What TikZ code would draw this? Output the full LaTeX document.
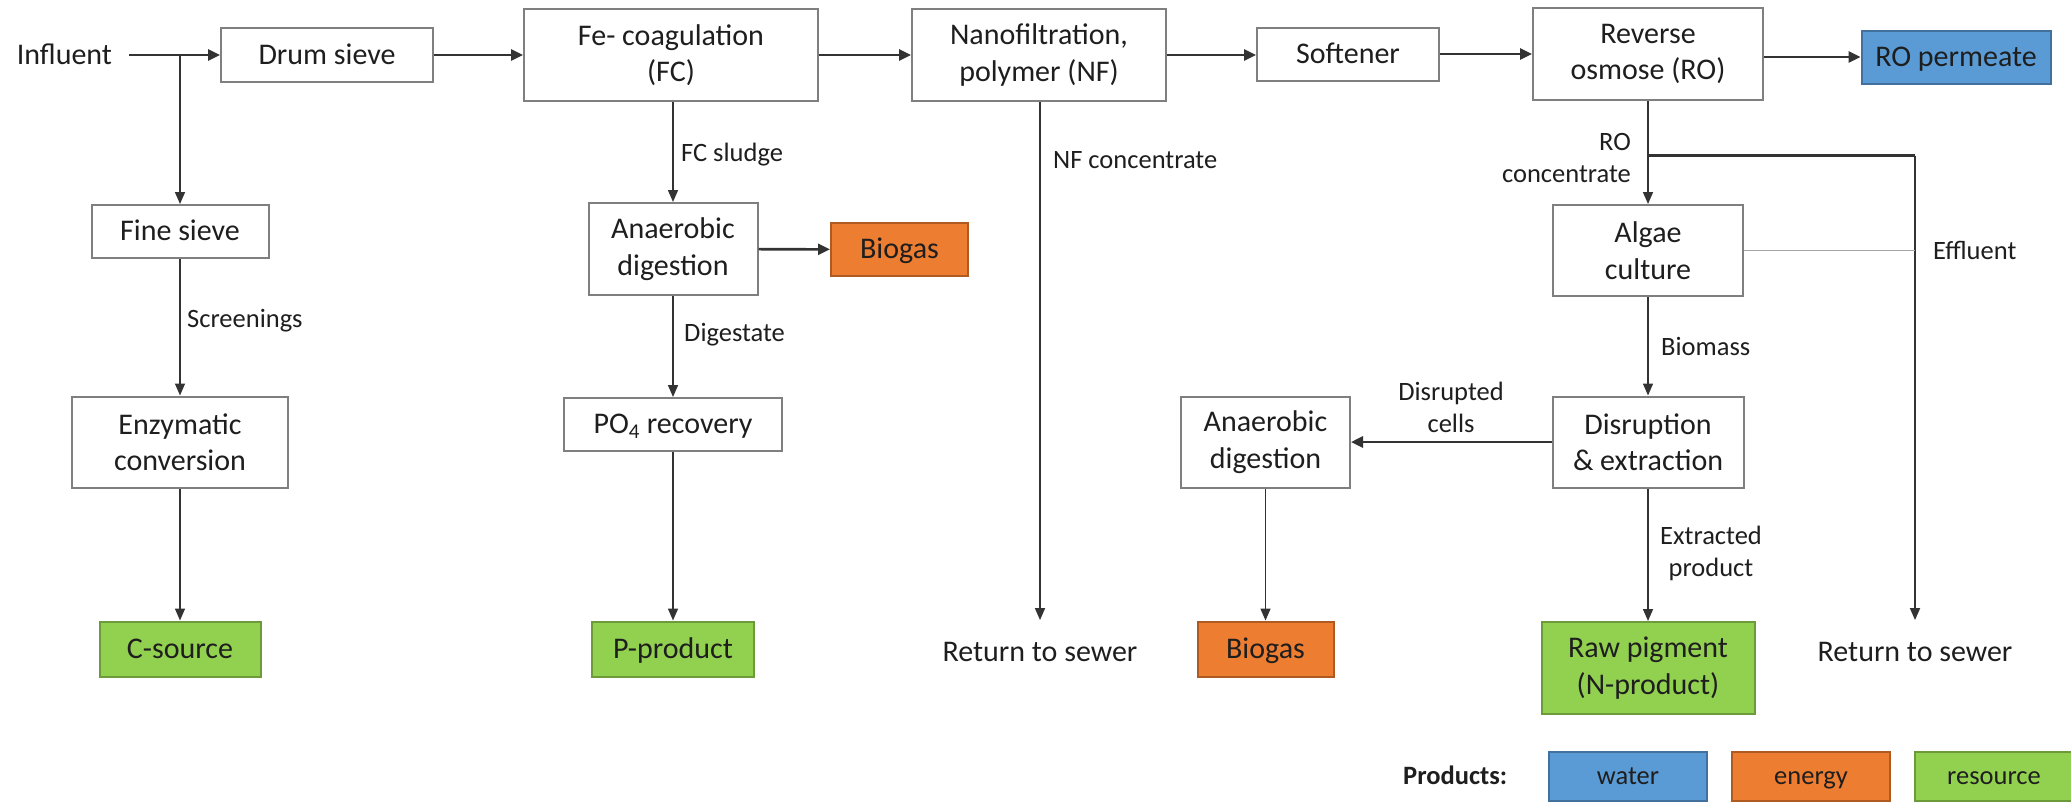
\documentclass[tikz,border=0pt]{standalone}
\usepackage{fontspec}
\setmainfont{Carlito}
\usetikzlibrary{arrows.meta,calc}

\definecolor{txt}{HTML}{1E1E1E}
\definecolor{boxline}{HTML}{7F7F7F}
\definecolor{flow}{HTML}{333333}
\definecolor{waterfill}{HTML}{5B9BD5}
\definecolor{waterline}{HTML}{41719C}
\definecolor{energyfill}{HTML}{ED7D31}
\definecolor{energyline}{HTML}{AE5A21}
\definecolor{resfill}{HTML}{92D050}
\definecolor{resline}{HTML}{6E9B3A}

\tikzset{
  procbox/.style={draw=boxline, line width=2pt, fill=white, inner sep=0pt,
    align=center, text=txt, font=\fontsize{30}{36.5}\selectfont},
  oneline/.style={text height=23pt, text depth=5pt},
  smallline/.style={text height=20pt, text depth=4.5pt},
  waterbox/.style={procbox, draw=waterline, fill=waterfill},
  energybox/.style={procbox, draw=energyline, fill=energyfill},
  resbox/.style={procbox, draw=resline, fill=resfill},
  keybox/.style={minimum width=158pt, minimum height=49pt, smallline,
    font=\fontsize{26.5}{32}\selectfont},
  flowlbl/.style={inner sep=0pt, align=center, text=txt,
    font=\fontsize{26.5}{32}\selectfont},
  endlbl/.style={inner sep=0pt, text=txt, font=\fontsize{30}{36.5}\selectfont},
  mainflow/.style={draw=flow, line width=2.6pt,
    -{Triangle[length=12pt,width=11pt]}},
  sideflow/.style={draw=flow, line width=1.6pt,
    -{Triangle[length=12pt,width=10pt]}},
  thinflow/.style={draw=gray!70, line width=1pt}
}

\begin{document}
\begin{tikzpicture}[x=1pt, y=-1pt]
\useasboundingbox (0,0) rectangle (2071,801);

% ---- main treatment line ----
\node[endlbl, anchor=east, outer xsep=17pt, oneline] (infl) at (129,55) {Influent};
\node[procbox, oneline, minimum width=212pt, minimum height=54pt] (drum) at (327,55) {Drum sieve};
\node[procbox, minimum width=294pt, minimum height=92pt] (fc) at (671,55) {Fe- coagulation\\(FC)};
\node[procbox, minimum width=254pt, minimum height=92pt] (nf) at (1039,55) {Nanofiltration,\\polymer (NF)};
\node[procbox, oneline, minimum width=182pt, minimum height=53pt] (soft) at (1348,54) {Softener};
\node[procbox, minimum width=230pt, minimum height=92pt] (ro) at (1648,54) {Reverse\\osmose (RO)};
\node[waterbox, oneline, minimum width=189pt, minimum height=53pt] (perm) at (1956,57) {RO permeate};

% ---- screenings branch ----
\node[procbox, oneline, minimum width=177pt, minimum height=53pt] (fine) at (180,231.5) {Fine sieve};
\node[procbox, minimum width=216pt, minimum height=91pt] (enz) at (180,442) {Enzymatic\\conversion};
\node[resbox, oneline, minimum width=161pt, minimum height=55pt] (csrc) at (180,649) {C-source};

% ---- sludge branch ----
\node[procbox, minimum width=169pt, minimum height=92pt] (ad1) at (673,249) {Anaerobic\\digestion};
\node[energybox, oneline, minimum width=137pt, minimum height=53pt] (bg1) at (899.5,249.5) {Biogas};
\node[procbox, oneline, minimum width=218pt, minimum height=53pt] (po4) at (673,424.5) {PO\textsubscript{4} recovery};
\node[resbox, oneline, minimum width=162pt, minimum height=55pt] (pprod) at (673,649) {P-product};

% ---- concentrate branches ----
\node[endlbl, inner ysep=22pt] (ret1) at (1040,652) {Return to sewer};
\node[procbox, minimum width=190pt, minimum height=91pt] (algae) at (1648,250.5) {Algae\\culture};
\node[procbox, minimum width=191pt, minimum height=91pt] (disr) at (1648,442) {Disruption\\\& extraction};
\node[procbox, minimum width=169pt, minimum height=91pt] (ad2) at (1265.5,442) {Anaerobic\\digestion};
\node[energybox, oneline, minimum width=136pt, minimum height=55pt] (bg2) at (1265.5,649) {Biogas};
\node[resbox, minimum width=213pt, minimum height=92pt] (raw) at (1648,668) {Raw pigment\\(N-product)};
\node[endlbl, inner ysep=22pt] (ret2) at (1915,652) {Return to sewer};

\coordinate (split1) at (180,55);
\coordinate (split2) at (1648,155.7);
\coordinate (corner) at (1915,155.7);

% ---- connectors ----
\draw[mainflow] (infl.east) -- (drum.west);
\draw[sideflow] (split1) -- (fine.north);
\draw[mainflow] (drum.east) -- (fc.west |- drum.east);
\draw[mainflow] (fc.east) -- (nf.west |- fc.east);
\draw[mainflow] (nf.east) -- (soft.west |- nf.east);
\draw[mainflow] (soft.east) -- (ro.west |- soft.east);
\draw[mainflow] (ro.east |- perm.west) -- (perm.west);

\draw[sideflow] (fine) -- (enz);
\draw[sideflow] (enz) -- (csrc);

\draw[sideflow] (ad1.north |- fc.south) -- (ad1.north);
\draw[mainflow] (ad1) -- (bg1);
\draw[sideflow] (ad1) -- (po4);
\draw[sideflow] (po4) -- (pprod);

\draw[sideflow] (ret1.north |- nf.south) -- (ret1.north);

\draw[sideflow] (ro) -- (algae);
\draw[draw=flow, line width=2.6pt] (split2) -- (corner);
\draw[sideflow] (corner) -- (ret2.north);
\draw[thinflow] (algae.east) -- (algae.east -| corner);
\draw[sideflow] (algae) -- (disr);
\draw[mainflow] (disr) -- (ad2);
\draw[sideflow] (ad2) -- (bg2);
\draw[sideflow] (disr) -- (raw);

% ---- flow labels ----
\node[flowlbl, anchor=west] (lscr) at (187,320.7) {Screenings};
\node[flowlbl, anchor=west] (lfcs) at (681,155) {FC sludge};
\node[flowlbl, anchor=west] (ldig) at (684,335) {Digestate};
\node[flowlbl, anchor=west] (lnfc) at (1053,160) {NF concentrate};
\node[flowlbl, anchor=east, align=right] (lroc) at (1631,157.5) {RO\\concentrate};
\node[flowlbl, anchor=west] (leff) at (1933,250.7) {Effluent};
\node[flowlbl, anchor=west] (lbio) at (1661,346.7) {Biomass};
\node[flowlbl] (ldis) at (1451,407) {Disrupted\\cells};
\node[flowlbl] (lext) at (1711,553.5) {Extracted\\product};

% ---- legend ----
\node[flowlbl, anchor=west, smallline, font=\fontsize{26.5}{32}\selectfont\bfseries] (lprod) at (1403,776.7) {Products:};
\node[waterbox, keybox] (kwater) at (1628,776.5) {water};
\node[energybox, keybox] (kenergy) at (1811,776.5) {energy};
\node[resbox, keybox] (kres) at (1994,776.5) {resource};
\end{tikzpicture}
\end{document}
